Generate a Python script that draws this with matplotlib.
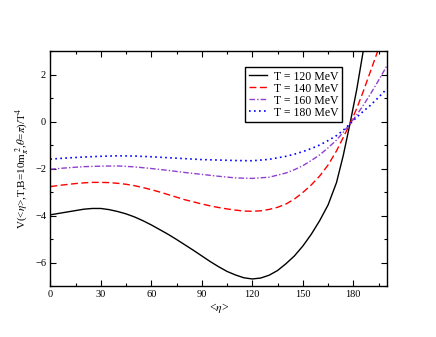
import numpy as np
import matplotlib
matplotlib.use("Agg")
import matplotlib.pyplot as plt
from matplotlib.ticker import MultipleLocator

plt.rcParams['font.family'] = ['Liberation Serif', 'DejaVu Serif']
plt.rcParams['mathtext.fontset'] = 'stix'

# values
x_120 = [0, 5, 10, 15, 20, 25, 30, 35, 40, 45, 50, 55, 60, 65, 70, 75, 80, 85,
         90, 95, 100, 105, 110, 115, 120, 125, 130, 135, 140, 145, 150, 155,
         160, 165, 170, 174, 178, 182, 186, 189]
v_120 = [-3.97, -3.91, -3.85, -3.79, -3.73, -3.70, -3.70, -3.75, -3.83, -3.93,
         -4.06, -4.22, -4.40, -4.60, -4.80, -5.02, -5.25, -5.48, -5.72, -5.96,
         -6.18, -6.38, -6.53, -6.65, -6.70, -6.66, -6.54, -6.34, -6.05, -5.72,
         -5.30, -4.80, -4.22, -3.55, -2.60, -1.45, -0.10, 1.35, 3.05, 4.30]

x_140 = [0, 5, 10, 15, 20, 25, 30, 35, 40, 45, 50, 55, 60, 65, 70, 75, 80, 85,
         90, 95, 100, 105, 110, 115, 120, 125, 130, 135, 140, 145, 150, 155,
         160, 165, 170, 174, 178, 182, 186, 190, 194, 197]
v_140 = [-2.77, -2.72, -2.68, -2.64, -2.61, -2.59, -2.59, -2.60, -2.63, -2.67,
         -2.73, -2.81, -2.90, -3.00, -3.11, -3.22, -3.33, -3.42, -3.51, -3.59,
         -3.66, -3.72, -3.77, -3.81, -3.82, -3.80, -3.74, -3.65, -3.51, -3.30,
         -3.02, -2.70, -2.32, -1.85, -1.25, -0.68, -0.10, 0.55, 1.30, 2.10,
         2.90, 3.50]

x_160 = [0, 10, 20, 30, 40, 50, 60, 70, 80, 90, 100, 110, 120, 130, 140, 145,
         150, 155, 160, 165, 170, 174, 178, 182, 186, 190, 195, 200]
v_160 = [-2.03, -1.97, -1.92, -1.90, -1.89, -1.93, -2.00, -2.08, -2.17, -2.25,
         -2.33, -2.40, -2.42, -2.37, -2.19, -2.05, -1.88, -1.66, -1.42, -1.12,
         -0.79, -0.46, -0.10, 0.28, 0.70, 1.15, 1.75, 2.38]

x_180 = [0, 10, 20, 30, 40, 50, 60, 70, 80, 90, 100, 110, 120, 130, 140, 145,
         150, 155, 160, 165, 170, 174, 178, 182, 186, 190, 195, 200]
v_180 = [-1.60, -1.55, -1.51, -1.48, -1.46, -1.47, -1.50, -1.54, -1.58, -1.62,
         -1.64, -1.66, -1.67, -1.61, -1.48, -1.39, -1.28, -1.15, -1.00, -0.81,
         -0.60, -0.37, -0.10, 0.18, 0.44, 0.68, 1.03, 1.40]

labels = ["T = 120 MeV", "T = 140 MeV", "T = 160 MeV", "T = 180 MeV"]

fig = plt.figure(figsize=(4.36, 3.37), dpi=100, facecolor="white")
ax = fig.add_axes([0.1154, 0.1513, 0.7722, 0.6973])

ax.plot(x_120, v_120, color="black", lw=1.0, label=labels[0])
ax.plot(x_140, v_140, color="#ff0000", lw=1.0, dashes=(5, 2.5), label=labels[1])
ax.plot(x_160, v_160, color="#9040d0", lw=1.0, dashes=(4, 1.5, 1, 1.5),
        label=labels[2])
ax.plot(x_180, v_180, color="#0000ff", lw=1.2, dashes=(1, 2), label=labels[3])

ax.set_xlim(0, 200)
ax.set_ylim(-7, 3)
ax.xaxis.set_major_locator(MultipleLocator(30))
ax.xaxis.set_minor_locator(MultipleLocator(15))
ax.yaxis.set_major_locator(MultipleLocator(2))
ax.yaxis.set_minor_locator(MultipleLocator(1))
ax.tick_params(which="both", direction="in", top=True, right=True,
               labelsize=7.5, width=0.8, pad=3)
ax.tick_params(which="major", length=4.5)
ax.tick_params(which="minor", length=2.2)
for s in ax.spines.values():
    s.set_linewidth(1.0)

ax.set_xlabel(r"<$\eta$>", fontsize=8.5, labelpad=1)
ax.set_ylabel(r"V(<$\eta$>,T,B=10m$_\pi^{\ 2}$,$\theta$=$\pi$)/T$^4$",
              fontsize=8, labelpad=2)

leg = ax.legend(loc="upper right", bbox_to_anchor=(0.866, 0.932),
                fontsize=8.5, frameon=True, fancybox=False, framealpha=1,
                edgecolor="black", handlelength=1.5, handletextpad=0.6,
                labelspacing=0.0, borderpad=0.3, borderaxespad=0)
leg.get_frame().set_linewidth(1.0)

fig.savefig("out.png", dpi=100)
